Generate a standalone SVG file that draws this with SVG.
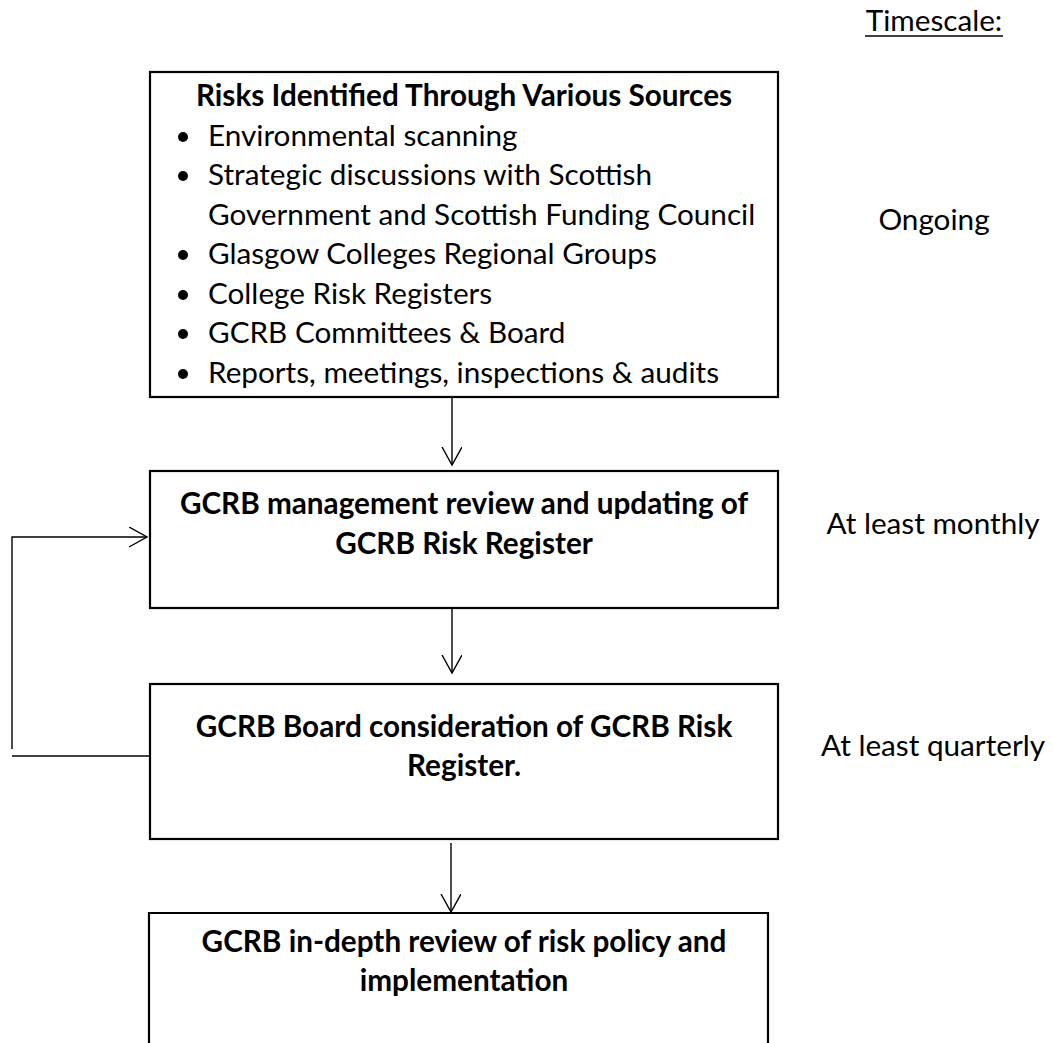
<svg xmlns="http://www.w3.org/2000/svg" width="1055" height="1043" viewBox="0 0 1055 1043">
<defs>
<marker id="arr" markerWidth="24" markerHeight="24" refX="18" refY="10" orient="auto" markerUnits="userSpaceOnUse">
<path d="M0,0 L18,10 L0,20" fill="none" stroke="#000" stroke-width="1.4"/>
</marker>
<style>
.box{fill:#fff;stroke:#000;stroke-width:2.2}
.t{font-family:Lato,"Liberation Sans",sans-serif;font-size:29.7px;fill:#000}
.b{font-weight:bold}
.c{text-anchor:middle}
.dot{fill:#000}
.con{fill:none;stroke:#000;stroke-width:1.4}
</style>
</defs>
<rect width="1055" height="1043" fill="#fff"/>

<g id="timescale">
<text class="t c" x="934" y="31">Timescale:</text>
<line x1="865" y1="36" x2="1003" y2="36" stroke="#000" stroke-width="1.3"/>
</g>

<g id="sources">
<rect class="box" x="150" y="72" width="628" height="325"/>
<text class="t b c" x="464" y="106">Risks Identified Through Various Sources</text>
<circle class="dot" cx="183" cy="137" r="5"/>
<text class="t" x="208" y="146">Environmental scanning</text>
<circle class="dot" cx="183" cy="176" r="5"/>
<text class="t" x="208" y="185">Strategic discussions with Scottish</text>
<text class="t" x="208" y="225">Government and Scottish Funding Council</text>
<circle class="dot" cx="183" cy="255" r="5"/>
<text class="t" x="208" y="264">Glasgow Colleges Regional Groups</text>
<circle class="dot" cx="183" cy="295" r="5"/>
<text class="t" x="208" y="304">College Risk Registers</text>
<circle class="dot" cx="183" cy="334" r="5"/>
<text class="t" x="208" y="343">GCRB Committees &amp; Board</text>
<circle class="dot" cx="183" cy="374" r="5"/>
<text class="t" x="208" y="383">Reports, meetings, inspections &amp; audits</text>
</g>

<g id="ongoing">
<text class="t c" x="934" y="230">Ongoing</text>
</g>

<g id="mgmt">
<rect class="box" x="150" y="471" width="628" height="137"/>
<text class="t b c" x="464" y="514">GCRB management review and updating of</text>
<text class="t b c" x="464" y="554">GCRB Risk Register</text>
</g>

<g id="monthly">
<text class="t c" x="933" y="534">At least monthly</text>
</g>

<g id="board">
<rect class="box" x="150" y="684" width="628" height="155"/>
<text class="t b c" x="464" y="737">GCRB Board consideration of GCRB Risk</text>
<text class="t b c" x="464" y="776">Register.</text>
</g>

<g id="quarterly">
<text class="t c" x="933" y="756">At least quarterly</text>
</g>

<g id="indepth">
<path class="box" d="M149,1044 L149,913 L768,913 L768,1044"/>
<text class="t b c" x="464" y="952">GCRB in-depth review of risk policy and</text>
<text class="t b c" x="464" y="991">implementation</text>
</g>

<g id="connectors">
<line class="con" x1="452" y1="398" x2="452" y2="465" marker-end="url(#arr)"/>
<line class="con" x1="452" y1="609" x2="452" y2="673" marker-end="url(#arr)"/>
<line class="con" x1="451" y1="843" x2="451" y2="912" marker-end="url(#arr)"/>
<line class="con" x1="149" y1="756" x2="12" y2="756"/>
<polyline class="con" points="12,749 12,537 147,537" marker-end="url(#arr)"/>
</g>
</svg>
